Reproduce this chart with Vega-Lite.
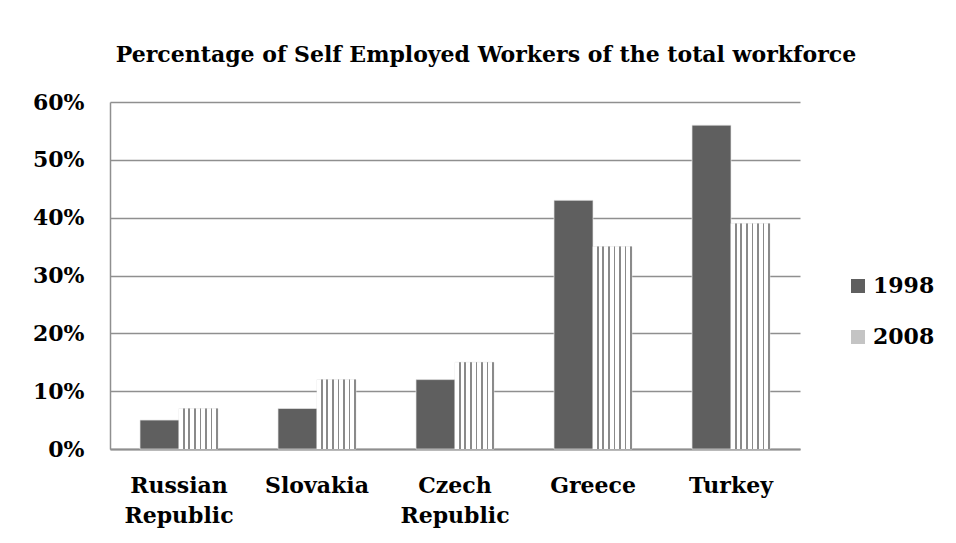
{
  "$schema": "https://vega.github.io/schema/vega-lite/v6.json",
  "autosize": {"type": "none"},
  "width": 690,
  "height": 347,
  "padding": {"left": 110, "top": 102, "right": 156, "bottom": 94},
  "background": "white",
  "title": {
    "text": "Percentage of Self Employed Workers of the total workforce",
    "font": "DejaVu Serif",
    "fontWeight": "bold",
    "fontSize": 22,
    "color": "#000000",
    "anchor": "middle",
    "dx": 31,
    "offset": 24
  },
  "data": {
    "values": [
      {"country": "Russian Republic", "year": "1998", "pct": 0.05},
      {"country": "Russian Republic", "year": "2008", "pct": 0.07},
      {"country": "Slovakia", "year": "1998", "pct": 0.07},
      {"country": "Slovakia", "year": "2008", "pct": 0.12},
      {"country": "Czech Republic", "year": "1998", "pct": 0.12},
      {"country": "Czech Republic", "year": "2008", "pct": 0.15},
      {"country": "Greece", "year": "1998", "pct": 0.43},
      {"country": "Greece", "year": "2008", "pct": 0.35},
      {"country": "Turkey", "year": "1998", "pct": 0.56},
      {"country": "Turkey", "year": "2008", "pct": 0.39}
    ]
  },
  "encoding": {
    "x": {
      "field": "country",
      "type": "nominal",
      "sort": null,
      "scale": {"paddingInner": 0.435, "paddingOuter": 0.2175},
      "axis": {
        "title": null,
        "labelAngle": 0,
        "labelFont": "DejaVu Serif",
        "labelFontWeight": "bold",
        "labelFontSize": 22,
        "labelColor": "#000000",
        "labelPadding": 26,
        "labelLineHeight": 30,
        "labelExpr": "split(datum.label, ' ')",
        "ticks": false,
        "domainColor": "#8f8f8f",
        "domainWidth": 2,
        "grid": false
      }
    },
    "xOffset": {"field": "year", "type": "nominal", "scale": {"domain": ["1998", "2008"], "paddingInner": 0, "paddingOuter": 0}},
    "y": {
      "field": "pct",
      "type": "quantitative",
      "scale": {"domain": [0, 0.6], "nice": false},
      "axis": {
        "title": null,
        "values": [0, 0.1, 0.2, 0.3, 0.4, 0.5, 0.6],
        "format": ".0%",
        "labelFont": "DejaVu Serif",
        "labelFontWeight": "bold",
        "labelFontSize": 22,
        "labelColor": "#000000",
        "labelPadding": 26,
        "ticks": false,
        "domainColor": "#8f8f8f",
        "domainWidth": 1.5,
        "gridColor": "#8f8f8f",
        "gridWidth": 1.5,
        "gridOpacity": 1
      }
    }
  },
  "layer": [
    {
      "mark": {"type": "bar", "stroke": "#e6e6e6", "strokeWidth": 0.7},
      "encoding": {
        "fill": {
          "field": "year",
          "type": "nominal",
          "scale": {"domain": ["1998", "2008"], "range": ["#5f5f5f", "#c4c4c4"]},
          "legend": {
            "title": null,
            "orient": "none",
            "legendX": 737,
            "legendY": 173,
            "symbolType": "square",
            "symbolSize": 196,
            "symbolStrokeWidth": 0,
            "labelFont": "DejaVu Serif",
            "labelFontWeight": "bold",
            "labelFontSize": 22,
            "labelColor": "#000000",
            "labelOffset": 4,
            "rowPadding": 29
          }
        }
      }
    },
    {
      "transform": [{"filter": "datum.year === '2008'"}],
      "mark": {
        "type": "bar",
        "fill": {
          "gradient": "linear",
          "x1": 0, "y1": 0, "x2": 1, "y2": 0,
          "stops": [
            {"offset": 0, "color": "#ffffff"},
            {"offset": 0.1, "color": "#ffffff"},
            {"offset": 0.1, "color": "#8a8a8a"},
            {"offset": 0.1428, "color": "#8a8a8a"},
            {"offset": 0.1428, "color": "#ffffff"},
            {"offset": 0.2428, "color": "#ffffff"},
            {"offset": 0.2428, "color": "#8a8a8a"},
            {"offset": 0.2857, "color": "#8a8a8a"},
            {"offset": 0.2857, "color": "#ffffff"},
            {"offset": 0.3857, "color": "#ffffff"},
            {"offset": 0.3857, "color": "#8a8a8a"},
            {"offset": 0.4286, "color": "#8a8a8a"},
            {"offset": 0.4286, "color": "#ffffff"},
            {"offset": 0.5286, "color": "#ffffff"},
            {"offset": 0.5286, "color": "#8a8a8a"},
            {"offset": 0.5714, "color": "#8a8a8a"},
            {"offset": 0.5714, "color": "#ffffff"},
            {"offset": 0.6714, "color": "#ffffff"},
            {"offset": 0.6714, "color": "#8a8a8a"},
            {"offset": 0.7143, "color": "#8a8a8a"},
            {"offset": 0.7143, "color": "#ffffff"},
            {"offset": 0.8143, "color": "#ffffff"},
            {"offset": 0.8143, "color": "#8a8a8a"},
            {"offset": 0.8571, "color": "#8a8a8a"},
            {"offset": 0.8571, "color": "#ffffff"},
            {"offset": 0.9571, "color": "#ffffff"},
            {"offset": 0.9571, "color": "#8a8a8a"},
            {"offset": 1, "color": "#8a8a8a"}
          ]
        }
      },
      "encoding": {}
    }
  ],
  "config": {
    "view": {"stroke": null}
  }
}
